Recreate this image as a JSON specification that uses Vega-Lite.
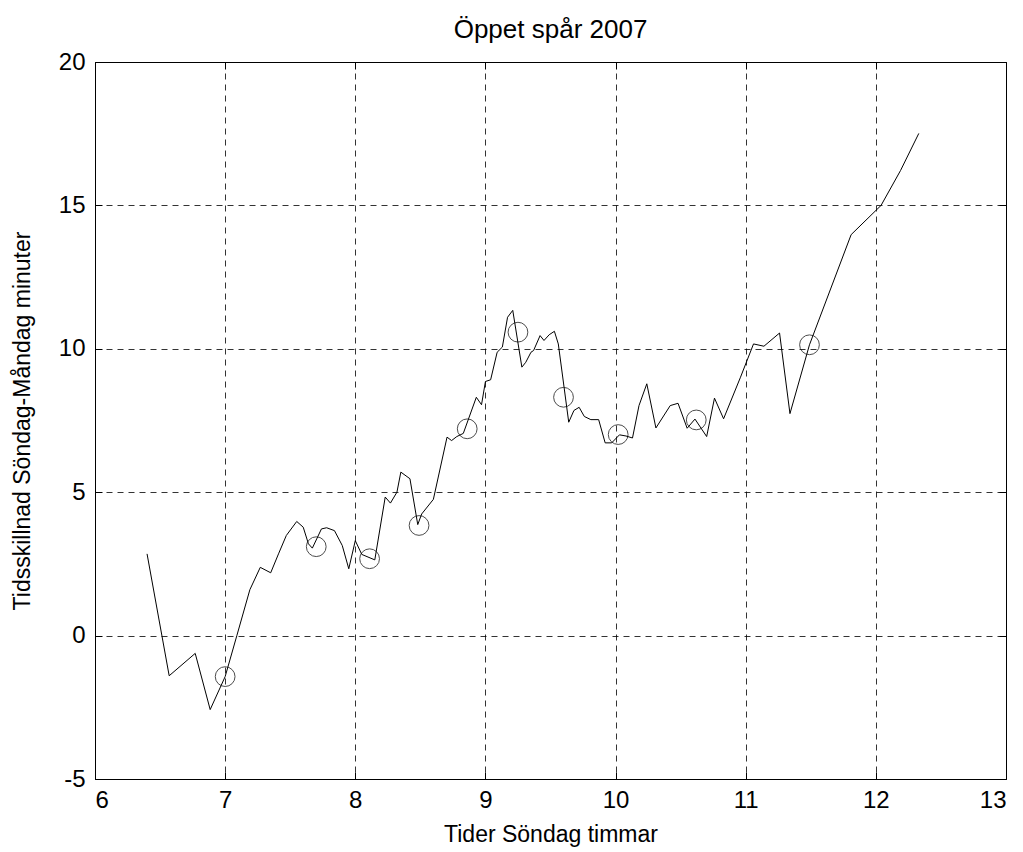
{
  "$schema": "https://vega.github.io/schema/vega-lite/v6.json",
  "width": 911,
  "height": 717,
  "autosize": {"type": "none"},
  "padding": {"left": 95, "top": 62, "right": 17, "bottom": 73},
  "background": "white",
  "title": {"text": "Öppet spår 2007", "font": "Liberation Sans", "fontSize": 26, "fontWeight": "normal", "color": "black", "offset": 7},
  "config": {
    "view": {"stroke": "black", "strokeWidth": 1},
    "axis": {
      "labelFont": "Liberation Sans", "labelFontSize": 24, "labelColor": "black",
      "titleFont": "Liberation Sans", "titleFontSize": 23, "titleFontWeight": "normal", "titleColor": "black",
      "domain": false, "tickColor": "black", "tickSize": -7,
      "grid": true, "gridColor": "black", "gridDash": [6, 5], "gridWidth": 1, "gridOpacity": 0.8
    }
  },
  "datasets": {
    "line": [
      {"t": 6.40, "d": 2.85}, {"t": 6.57, "d": -1.40}, {"t": 6.77, "d": -0.62}, {"t": 6.885, "d": -2.58},
      {"t": 7.00, "d": -1.43}, {"t": 7.09, "d": 0.0}, {"t": 7.19, "d": 1.6}, {"t": 7.27, "d": 2.38},
      {"t": 7.35, "d": 2.19}, {"t": 7.41, "d": 2.85}, {"t": 7.47, "d": 3.49}, {"t": 7.55, "d": 3.98},
      {"t": 7.60, "d": 3.78}, {"t": 7.64, "d": 3.20}, {"t": 7.67, "d": 3.05}, {"t": 7.74, "d": 3.72},
      {"t": 7.78, "d": 3.76}, {"t": 7.84, "d": 3.66}, {"t": 7.90, "d": 3.14}, {"t": 7.95, "d": 2.33},
      {"t": 8.00, "d": 3.31}, {"t": 8.05, "d": 2.83}, {"t": 8.15, "d": 2.64}, {"t": 8.23, "d": 4.83},
      {"t": 8.27, "d": 4.62}, {"t": 8.32, "d": 5.0}, {"t": 8.35, "d": 5.70}, {"t": 8.42, "d": 5.47},
      {"t": 8.48, "d": 3.87}, {"t": 8.51, "d": 4.24}, {"t": 8.60, "d": 4.75}, {"t": 8.705, "d": 6.92},
      {"t": 8.74, "d": 6.80}, {"t": 8.78, "d": 6.94}, {"t": 8.83, "d": 7.05}, {"t": 8.93, "d": 8.31},
      {"t": 8.97, "d": 8.05}, {"t": 9.00, "d": 8.86}, {"t": 9.04, "d": 8.92}, {"t": 9.09, "d": 9.88},
      {"t": 9.13, "d": 10.06}, {"t": 9.17, "d": 11.10}, {"t": 9.21, "d": 11.34}, {"t": 9.28, "d": 9.36},
      {"t": 9.31, "d": 9.53}, {"t": 9.35, "d": 9.88}, {"t": 9.37, "d": 9.94}, {"t": 9.42, "d": 10.46},
      {"t": 9.45, "d": 10.29}, {"t": 9.49, "d": 10.49}, {"t": 9.53, "d": 10.61}, {"t": 9.56, "d": 10.17},
      {"t": 9.64, "d": 7.44}, {"t": 9.68, "d": 7.85}, {"t": 9.72, "d": 7.96}, {"t": 9.76, "d": 7.64},
      {"t": 9.81, "d": 7.53}, {"t": 9.87, "d": 7.53}, {"t": 9.92, "d": 6.72}, {"t": 9.97, "d": 6.72},
      {"t": 10.03, "d": 7.0}, {"t": 10.08, "d": 6.96}, {"t": 10.13, "d": 6.89}, {"t": 10.18, "d": 8.02},
      {"t": 10.24, "d": 8.78}, {"t": 10.31, "d": 7.24}, {"t": 10.42, "d": 8.02}, {"t": 10.48, "d": 8.10},
      {"t": 10.55, "d": 7.23}, {"t": 10.61, "d": 7.55}, {"t": 10.70, "d": 6.94}, {"t": 10.76, "d": 8.28},
      {"t": 10.83, "d": 7.56}, {"t": 10.96, "d": 9.01}, {"t": 11.06, "d": 10.17}, {"t": 11.14, "d": 10.09},
      {"t": 11.26, "d": 10.55}, {"t": 11.34, "d": 7.74}, {"t": 11.49, "d": 10.14}, {"t": 11.81, "d": 13.98},
      {"t": 12.04, "d": 15.0}, {"t": 12.19, "d": 16.22}, {"t": 12.33, "d": 17.51}
    ],
    "pts": [
      {"t": 7.00, "d": -1.43}, {"t": 7.70, "d": 3.10}, {"t": 8.11, "d": 2.68}, {"t": 8.49, "d": 3.84},
      {"t": 8.86, "d": 7.21}, {"t": 9.25, "d": 10.58}, {"t": 9.60, "d": 8.31}, {"t": 10.02, "d": 7.01},
      {"t": 10.62, "d": 7.52}, {"t": 11.49, "d": 10.14}
    ]
  },
  "layer": [
    {
      "data": {"name": "line"},
      "mark": {"type": "line", "color": "black", "strokeWidth": 1, "clip": true},
      "encoding": {
        "x": {"field": "t", "type": "quantitative", "title": "Tider Söndag timmar",
              "scale": {"domain": [6, 13], "nice": false, "zero": false},
              "axis": {"values": [6, 7, 8, 9, 10, 11, 12, 13], "orient": "bottom", "labelPadding": 16, "titlePadding": 11, "labelExpr": "'' + datum.value"}},
        "y": {"field": "d", "type": "quantitative", "title": "Tidsskillnad Söndag-Måndag minuter",
              "scale": {"domain": [-5, 20], "nice": false, "zero": false},
              "axis": {"values": [-5, 0, 5, 10, 15, 20], "orient": "left", "labelPadding": 17, "titlePadding": 24, "labelExpr": "'' + datum.value"}}
      }
    },
    {
      "data": {"name": "pts"},
      "mark": {"type": "point", "shape": "circle", "size": 390, "color": "black", "strokeWidth": 1, "filled": false},
      "encoding": {
        "x": {"field": "t", "type": "quantitative",
              "axis": {"values": [6, 7, 8, 9, 10, 11, 12, 13], "orient": "top", "labels": false, "grid": false, "title": null}},
        "y": {"field": "d", "type": "quantitative",
              "axis": {"values": [-5, 0, 5, 10, 15, 20], "orient": "right", "labels": false, "grid": false, "title": null}}
      }
    }
  ],
  "resolve": {"axis": {"x": "independent", "y": "independent"}}
}
